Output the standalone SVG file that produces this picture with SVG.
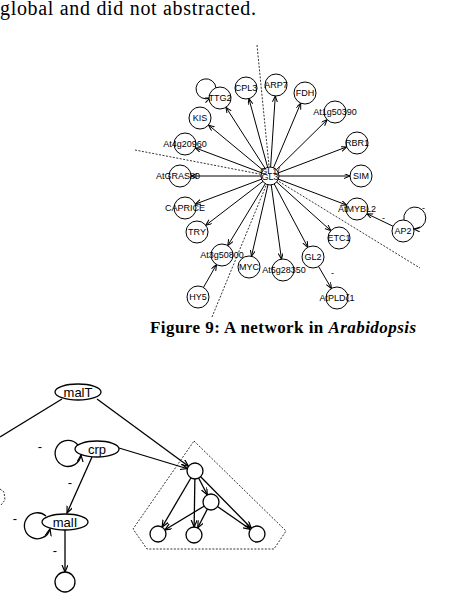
<svg xmlns="http://www.w3.org/2000/svg" width="474" height="600" viewBox="0 0 474 600">
<style>
.ln{stroke:#000;stroke-width:1;fill:none}
.ln2{stroke:#000;stroke-width:1.3;fill:none}
.ds{stroke:#000;stroke-width:0.8;fill:none;stroke-dasharray:2,1.5}
.nd{fill:#fff;stroke:#000;stroke-width:1}
.nd2{fill:#fff;stroke:#000;stroke-width:1.3}
.lb{font-family:"Liberation Sans",Arial,sans-serif;font-size:9px;text-anchor:middle;fill:#000}
.lb2{font-family:"Liberation Sans",Arial,sans-serif;font-size:13px;text-anchor:middle;fill:#000}
.mn{font-family:"Liberation Sans",Arial,sans-serif;font-size:9px;fill:#000}
</style>
<defs>
<marker id="n11" markerUnits="userSpaceOnUse" markerWidth="20" markerHeight="6" refX="17" refY="2.5" orient="auto"><path d="M0,0 L6,2.5 L0,5" fill="none" stroke="#000" stroke-width="1"/></marker>
<marker id="a6" markerUnits="userSpaceOnUse" markerWidth="8" markerHeight="6" refX="6" refY="2.5" orient="auto"><path d="M0,0 L6,2.5 L0,5" fill="none" stroke="#000" stroke-width="1"/></marker>
<marker id="n8" markerUnits="userSpaceOnUse" markerWidth="20" markerHeight="8" refX="15" refY="3" orient="auto"><path d="M0,0 L7,3 L0,6" fill="none" stroke="#000" stroke-width="1.2"/></marker>
<marker id="a7" markerUnits="userSpaceOnUse" markerWidth="9" markerHeight="8" refX="7" refY="3" orient="auto"><path d="M0,0 L7,3 L0,6" fill="none" stroke="#000" stroke-width="1.2"/></marker>
</defs>
<rect width="474" height="600" fill="#fff"/>
<text x="0" y="15" font-family="'Liberation Serif','Times New Roman',serif" font-size="20" textLength="256">global and did not abstracted.</text>
<text x="150" y="333" font-family="'Liberation Serif','Times New Roman',serif" font-size="17" font-weight="bold" textLength="266">Figure 9: A network in <tspan font-style="italic">Arabidopsis</tspan></text>

<g id="separators">
<path class="ds" d="M257,45 L270,176"/>
<path class="ds" d="M270,176 L212,317"/>
<path class="ds" d="M135,150 L270,176"/>
<path class="ds" d="M270,176 L420,268"/>
</g>

<g id="connectors">
<path class="ln" marker-end="url(#n11)" d="M270,176 L220,98"/>
<path class="ln" marker-end="url(#n11)" d="M270,176 L246,88"/>
<path class="ln" marker-end="url(#n11)" d="M270,176 L276,85"/>
<path class="ln" marker-end="url(#n11)" d="M270,176 L305,93"/>
<path class="ln" marker-end="url(#n11)" d="M270,176 L335,112"/>
<path class="ln" marker-end="url(#n11)" d="M270,176 L357,143"/>
<path class="ln" marker-end="url(#n11)" d="M270,176 L361,176"/>
<path class="ln" marker-end="url(#n11)" d="M270,176 L357,209"/>
<path class="ln" marker-end="url(#n11)" d="M270,176 L339,238"/>
<path class="ln" marker-end="url(#n11)" d="M270,176 L313,257"/>
<path class="ln" marker-end="url(#n11)" d="M270,176 L283,270"/>
<path class="ln" marker-end="url(#n11)" d="M270,176 L249,267"/>
<path class="ln" marker-end="url(#n11)" d="M270,176 L222,255"/>
<path class="ln" marker-end="url(#n11)" d="M270,176 L197,232"/>
<path class="ln" marker-end="url(#n11)" d="M270,176 L185,208"/>
<path class="ln" marker-end="url(#n11)" d="M270,176 L180,176"/>
<path class="ln" marker-end="url(#n11)" d="M270,176 L185,144"/>
<path class="ln" marker-end="url(#n11)" d="M270,176 L200,118"/>
<path class="ln" marker-end="url(#n11)" d="M198,297 L222,255"/>
<path class="ln" marker-end="url(#n11)" d="M313,257 L337,298"/>
<path class="ln" marker-end="url(#n11)" d="M403,231 L357,209"/>
<path class="ln" marker-end="url(#a6)" d="M216,88 A10,10 0 1 0 210,98"/>
<path class="ln" marker-end="url(#a6)" d="M404,220 A11,11 0 1 1 414,229"/>

<path class="ln2" d="M62,399 L0,437"/>
<path class="ln2" marker-end="url(#n8)" d="M97,399 L195,471"/>
<path class="ln2" marker-end="url(#n8)" d="M119,448 L195,471"/>
<path class="ln2" marker-end="url(#a7)" d="M78,445 A13,13 0 1 0 81,455"/>
<path class="ln2" marker-end="url(#a7)" d="M92,457 L67,513"/>
<path class="ln2" marker-end="url(#a7)" d="M46,516 A13,13 0 1 0 50,529"/>
<path class="ln2" marker-end="url(#a7)" d="M65,530 L65,572"/>
<path class="ln2" marker-end="url(#n8)" d="M195,471 L158,534"/>
<path class="ln2" marker-end="url(#n8)" d="M195,471 L194,535"/>
<path class="ln2" marker-end="url(#n8)" d="M195,471 L211,502"/>
<path class="ln2" marker-end="url(#n8)" d="M195,471 L257,534"/>
<path class="ln2" marker-end="url(#n8)" d="M211,502 L158,534"/>
<path class="ln2" marker-end="url(#n8)" d="M211,502 L194,535"/>
<path class="ln2" marker-end="url(#n8)" d="M211,502 L257,534"/>
</g>

<g id="signs">
<text class="mn" x="422" y="211">-</text>
<text class="mn" x="382" y="221">-</text>
<text class="mn" x="331" y="276">-</text>
<text class="lb2" x="40" y="451">-</text>
<text class="lb2" x="70" y="487">-</text>
<text class="lb2" x="15" y="523">-</text>
<text class="lb2" x="55" y="555">-</text>
</g>

<g id="center"><circle class="nd" cx="270" cy="176" r="9"/><text class="lb" x="270" y="174" font-size="4.5">GL1/<tspan x="270" dy="6">GL3</tspan></text></g>
<g id="TTG2"><circle class="nd" cx="220" cy="98" r="11"/><text class="lb" x="220" y="101">TTG2</text></g>
<g id="CPL3"><circle class="nd" cx="246" cy="88" r="11"/><text class="lb" x="246" y="91">CPL3</text></g>
<g id="ARP7"><circle class="nd" cx="276" cy="85" r="11"/><text class="lb" x="276" y="88">ARP7</text></g>
<g id="FDH"><circle class="nd" cx="305" cy="93" r="11"/><text class="lb" x="305" y="96">FDH</text></g>
<g id="At1g50390"><circle class="nd" cx="335" cy="112" r="11"/><text class="lb" x="335" y="115">At1g50390</text></g>
<g id="RBR1"><circle class="nd" cx="357" cy="143" r="11"/><text class="lb" x="357" y="146">RBR1</text></g>
<g id="SIM"><circle class="nd" cx="361" cy="176" r="11"/><text class="lb" x="361" y="179">SIM</text></g>
<g id="AtMYBL2"><circle class="nd" cx="357" cy="209" r="11"/><text class="lb" x="357" y="212">AtMYBL2</text></g>
<g id="AP2"><circle class="nd" cx="403" cy="231" r="11"/><text class="lb" x="403" y="234">AP2</text></g>
<g id="ETC1"><circle class="nd" cx="339" cy="238" r="11"/><text class="lb" x="339" y="241">ETC1</text></g>
<g id="GL2"><circle class="nd" cx="313" cy="257" r="11"/><text class="lb" x="313" y="260">GL2</text></g>
<g id="AtPLDz1"><circle class="nd" cx="337" cy="298" r="11"/><text class="lb" x="337" y="301">AtPLDζ1</text></g>
<g id="At5g28350"><circle class="nd" cx="283" cy="270" r="11"/><text class="lb" x="284" y="273">At5g28350</text></g>
<g id="MYC"><circle class="nd" cx="249" cy="267" r="11"/><text class="lb" x="249" y="270">MYC</text></g>
<g id="At3g50800"><circle class="nd" cx="222" cy="255" r="11"/><text class="lb" x="222" y="258">At3g50800</text></g>
<g id="HY5"><circle class="nd" cx="198" cy="297" r="11"/><text class="lb" x="198" y="300">HY5</text></g>
<g id="TRY"><circle class="nd" cx="197" cy="232" r="11"/><text class="lb" x="197" y="235">TRY</text></g>
<g id="CAPRICE"><circle class="nd" cx="185" cy="208" r="11"/><text class="lb" x="185" y="211">CAPRICE</text></g>
<g id="AtGRAS80"><circle class="nd" cx="180" cy="176" r="11"/><text class="lb" x="178" y="179">AtGRAS80</text></g>
<g id="At4g20960"><circle class="nd" cx="185" cy="144" r="11"/><text class="lb" x="185" y="147">At4g20960</text></g>
<g id="KIS"><circle class="nd" cx="200" cy="118" r="11"/><text class="lb" x="200" y="121">KIS</text></g>

<g id="module"><path class="ds" d="M194,441 L286,531 L274,549 L147,549 L133,529 Z"/></g>
<g id="leftcut"><path class="ds" d="M0,489 L4,492 L5,500 L1,505"/></g>
<g id="malT"><ellipse class="nd2" cx="78" cy="392" rx="23" ry="8"/><text class="lb2" x="78" y="397">malT</text></g>
<g id="crp"><ellipse class="nd2" cx="97" cy="449" rx="22" ry="8"/><text class="lb2" x="97" y="454">crp</text></g>
<g id="malI"><ellipse class="nd2" cx="65" cy="522" rx="23" ry="8"/><text class="lb2" x="65" y="527">malI</text></g>
<g id="out"><circle class="nd2" cx="65" cy="582" r="10"/></g>
<g id="g1"><circle class="nd2" cx="195" cy="471" r="8"/></g>
<g id="g2"><circle class="nd2" cx="211" cy="502" r="8"/></g>
<g id="g3"><circle class="nd2" cx="158" cy="534" r="8"/></g>
<g id="g4"><circle class="nd2" cx="194" cy="535" r="8"/></g>
<g id="g5"><circle class="nd2" cx="257" cy="534" r="8"/></g>
</svg>
